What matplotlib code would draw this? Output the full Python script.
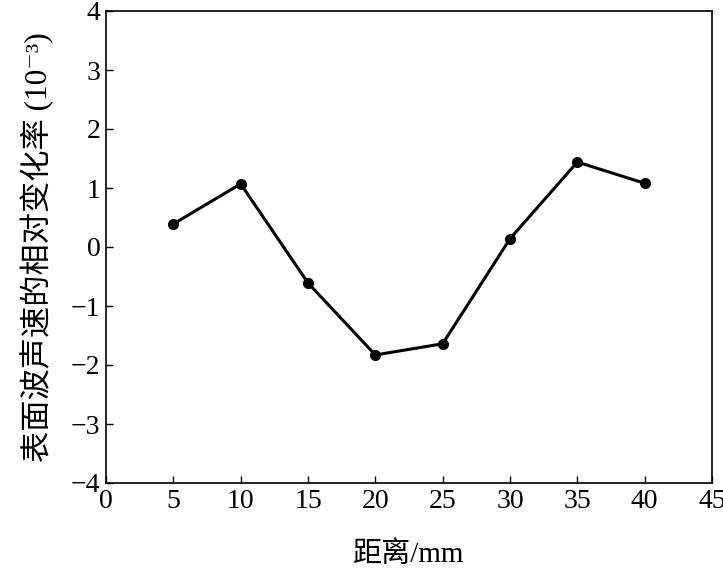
import matplotlib.pyplot as plt

plt.rcParams['font.family'] = ['Liberation Serif', 'DejaVu Serif', 'Noto Sans CJK SC']
plt.rcParams['axes.unicode_minus'] = True

# data
distance = [5, 10, 15, 20, 25, 30, 35, 40]
velocity_change = [0.39, 1.07, -0.61, -1.83, -1.64, 0.14, 1.44, 1.08]
x_ticks = [0, 5, 10, 15, 20, 25, 30, 35, 40, 45]
y_ticks = [-4, -3, -2, -1, 0, 1, 2, 3, 4]

fig = plt.figure(figsize=(7.23, 5.69), dpi=100)
ax = fig.add_axes([106/723, 1 - 483/569, (712-106)/723, (483-11)/569])

ax.plot(distance, velocity_change, color='black', lw=2.2,
        marker='o', markersize=7)

ax.set_xlim(0, 45)
ax.set_ylim(-4, 4)
ax.set_xticks(x_ticks)
ax.set_yticks(y_ticks)
ax.tick_params(direction='in', length=5, width=1, labelsize=20, pad=4)
for s in ax.spines.values():
    s.set_linewidth(1.2)

ax.set_xlabel('距离/mm', fontsize=21, labelpad=20)
ax.set_ylabel('表面波声速的相对变化率 (10⁻³)', fontsize=22.5, labelpad=12)

fig.savefig('out.png', dpi=100)
